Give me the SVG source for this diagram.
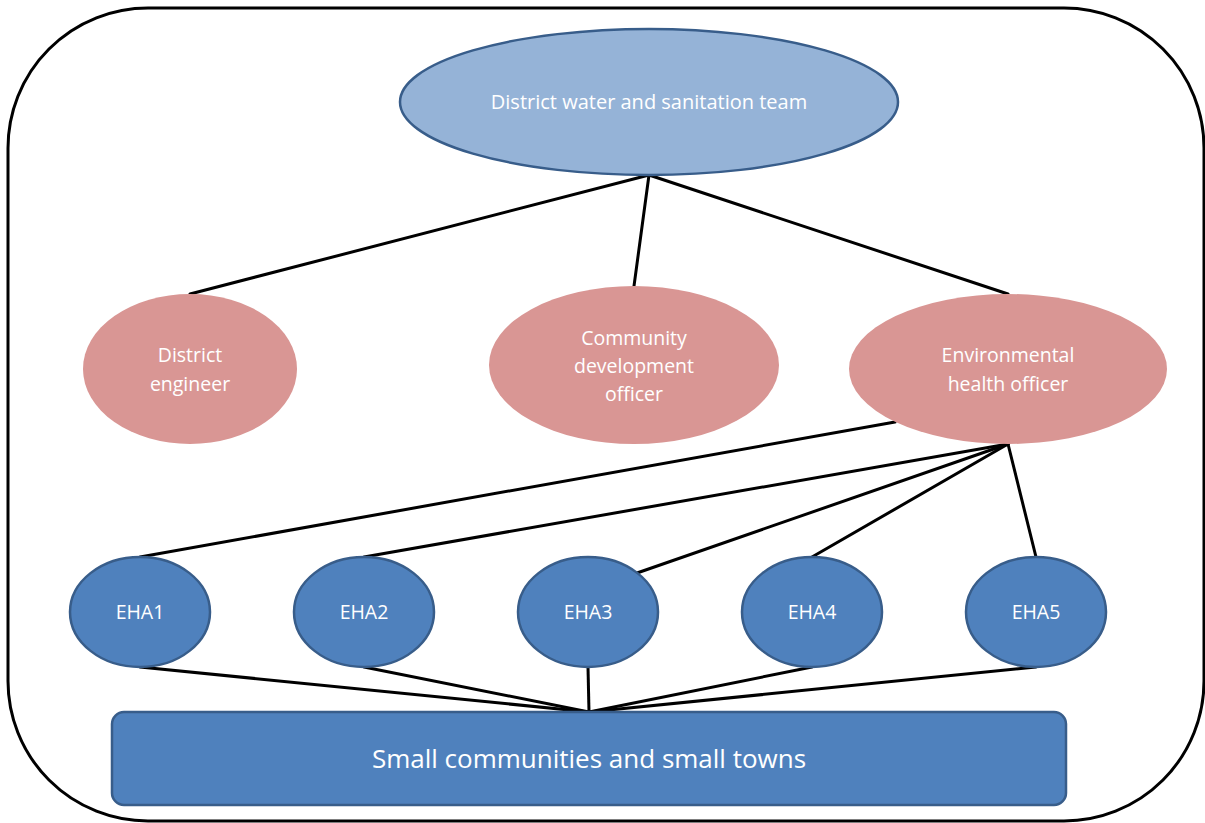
<svg xmlns="http://www.w3.org/2000/svg" width="1205" height="823" viewBox="0 0 1205 823">
<style>
.lbl{font-family:"Open Sans","Liberation Sans",sans-serif;fill:#fff;text-anchor:middle;font-size:19.5px}
.top{fill:#95B3D7;stroke:#385D8A;stroke-width:2.5}
.pink{fill:#D99694}
.eha{fill:#4F81BD;stroke:#385D8A;stroke-width:2.5}
.conn line{stroke:#000;stroke-width:3;stroke-linecap:round}
</style>
<rect x="8" y="8" width="1196" height="813" rx="140" ry="140" fill="#fff" stroke="#000" stroke-width="3"/>
<g class="conn" id="connectors">
<line x1="649" y1="175" x2="190" y2="294"/>
<line x1="649" y1="175" x2="634" y2="286"/>
<line x1="649" y1="175" x2="1008" y2="294"/>
<line x1="895" y1="422" x2="140" y2="557"/>
<line x1="1008" y1="444" x2="364" y2="557"/>
<line x1="1008" y1="444" x2="637" y2="573"/>
<line x1="1008" y1="444" x2="812" y2="557"/>
<line x1="1008" y1="444" x2="1036" y2="557"/>
<line x1="140" y1="667" x2="589" y2="712"/>
<line x1="364" y1="667" x2="589" y2="712"/>
<line x1="588" y1="667" x2="589" y2="712"/>
<line x1="812" y1="667" x2="589" y2="712"/>
<line x1="1036" y1="667" x2="589" y2="712"/>
</g>
<g id="team">
<ellipse class="top" cx="649" cy="102" rx="249" ry="73"/>
<text class="lbl" x="649" y="109" style="font-size:20px">District water and sanitation team</text>
</g>
<g id="engineer">
<ellipse class="pink" cx="190" cy="369" rx="107" ry="75"/>
<text class="lbl" x="190" y="362">District</text>
<text class="lbl" x="190" y="391">engineer</text>
</g>
<g id="cdo">
<ellipse class="pink" cx="634" cy="365" rx="145" ry="79"/>
<text class="lbl" x="634" y="345">Community</text>
<text class="lbl" x="634" y="373">development</text>
<text class="lbl" x="634" y="401">officer</text>
</g>
<g id="eho">
<ellipse class="pink" cx="1008" cy="369" rx="159" ry="75"/>
<text class="lbl" x="1008" y="362">Environmental</text>
<text class="lbl" x="1008" y="391">health officer</text>
</g>
<g id="eha1">
<ellipse class="eha" cx="140" cy="612" rx="70" ry="55"/>
<text class="lbl" x="140" y="619">EHA1</text>
</g>
<g id="eha2">
<ellipse class="eha" cx="364" cy="612" rx="70" ry="55"/>
<text class="lbl" x="364" y="619">EHA2</text>
</g>
<g id="eha3">
<ellipse class="eha" cx="588" cy="612" rx="70" ry="55"/>
<text class="lbl" x="588" y="619">EHA3</text>
</g>
<g id="eha4">
<ellipse class="eha" cx="812" cy="612" rx="70" ry="55"/>
<text class="lbl" x="812" y="619">EHA4</text>
</g>
<g id="eha5">
<ellipse class="eha" cx="1036" cy="612" rx="70" ry="55"/>
<text class="lbl" x="1036" y="619">EHA5</text>
</g>
<g id="communities">
<rect class="eha" x="112" y="712" width="954" height="93" rx="12" ry="12"/>
<text class="lbl" x="589" y="768" style="font-size:26px">Small communities and small towns</text>
</g>
</svg>
